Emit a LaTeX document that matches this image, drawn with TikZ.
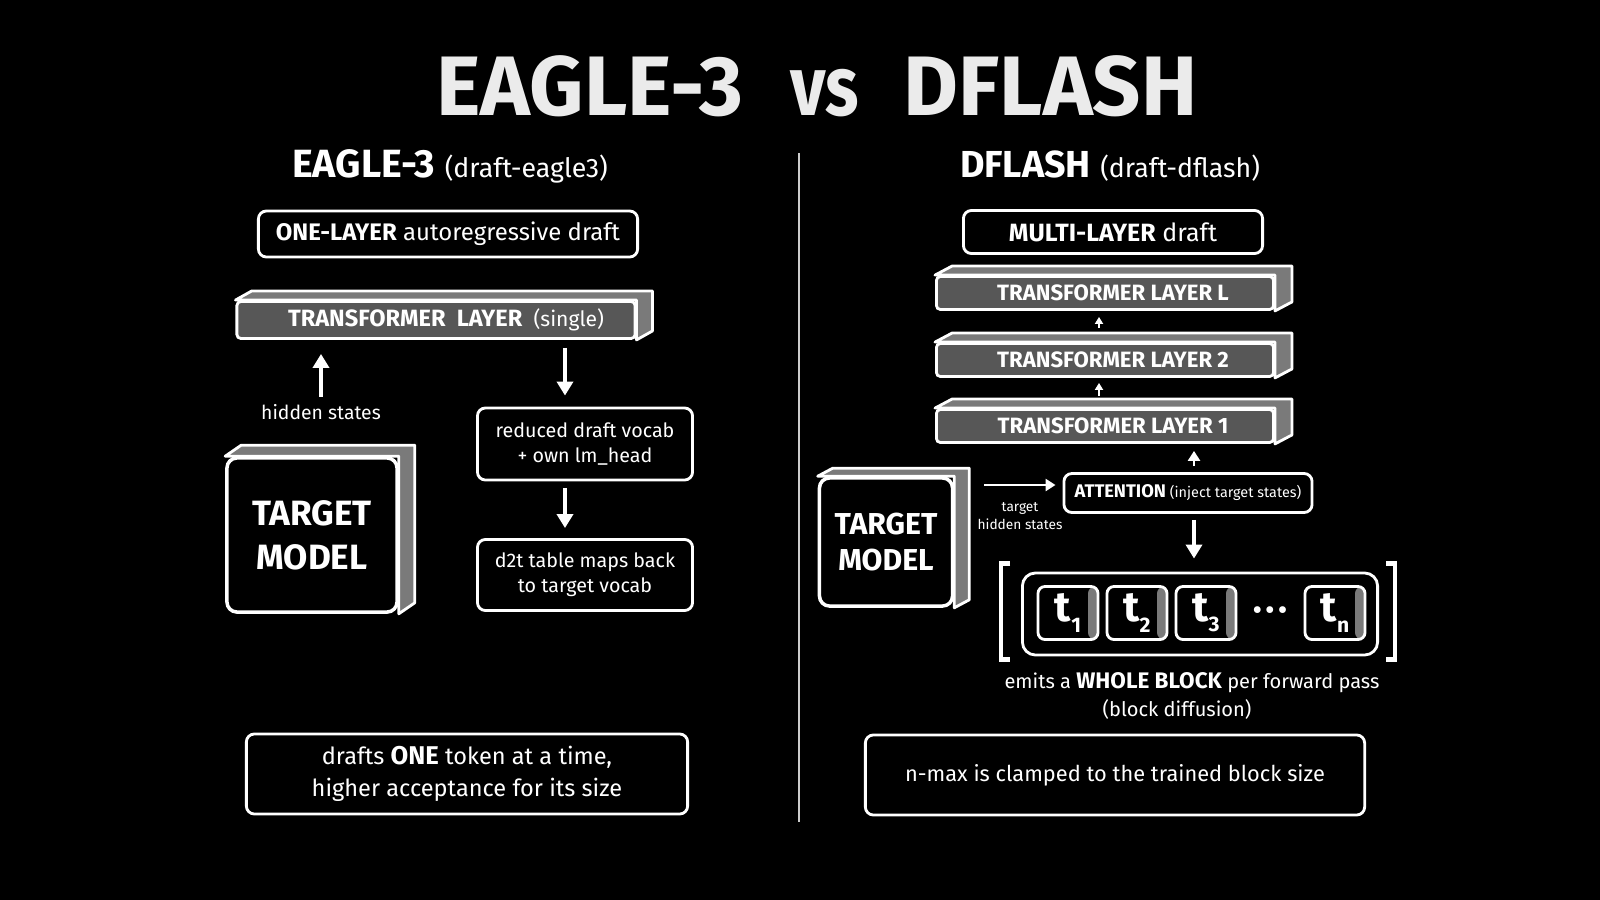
\documentclass[tikz,border=0pt]{standalone}
\usepackage{fontspec}
\setmainfont{Fira Sans}
\usetikzlibrary{arrows.meta}
\newcommand{\fsz}[2]{\fontsize{#1}{#2}\selectfont}
\definecolor{slabgray}{gray}{0.34}
\definecolor{sidegray}{gray}{0.48}
\pgfdeclarelayer{back}
\pgfdeclarelayer{faces}
\pgfsetlayers{back,faces,main}
\tikzset{
  box/.style={draw=white, line width=0.8pt, fill=black, rounded corners=0.08cm, text=white, align=center, inner sep=0pt},
  slab/.style={draw=white, line width=0.8pt, fill=slabgray, rounded corners=0.04cm, text=white, inner sep=0pt, font=\bfseries\fsz{6.3}{7}},
  cube/.style={draw=white, line width=1pt, fill=black, rounded corners=0.1cm, text=white, align=center, inner sep=0pt},
  face/.style={draw=white, line width=0.8pt, fill=sidegray, line join=round},
  tok/.style={draw=white, line width=0.8pt, fill=black, rounded corners=0.07cm, text=white, inner sep=0pt,
    minimum width=0.6cm, minimum height=0.53cm, font=\bfseries\fsz{12}{12},
    path picture={\fill[sidegray] ([xshift=-0.1cm]path picture bounding box.north east) rectangle (path picture bounding box.south east);}},
  lbl/.style={text=white, inner sep=0pt, align=center},
  arr/.style={white, line width=1pt, -{Triangle[length=0.14cm,width=0.16cm]}},
  marr/.style={white, line width=0.8pt, -{Triangle[length=0.1cm,width=0.12cm]}},
  sarr/.style={white, line width=0.6pt, -{Triangle[length=0.07cm,width=0.08cm]}},
  brk/.style={white, line width=1.3pt},
}
\begin{document}
\begin{tikzpicture}[x=0.01cm, y=-0.01cm]
    % 背景
    \begin{pgfonlayer}{back}
      \fill[black] (0,0) rectangle (1600,900);
    \end{pgfonlayer}

    % 标题
    \node[lbl, text=white!92!black, font=\bfseries\fsz{24}{28}] (title) at (817,86) {EAGLE-3\hspace{0.47cm}\scalebox{0.82}[1]{vs}\hspace{0.45cm}DFLASH};

    % 分隔线
    \coordinate (divtop) at (799,153);
    \coordinate (divbot) at (799,822);
    \draw[white!80!black, line width=0.6pt] (divtop) -- (divbot);

    % 左边：EAGLE-3
    \node[lbl] (hdE) at (450,166) {{\bfseries\fsz{11.2}{13}EAGLE-3} {\fsz{7.6}{9}(draft-eagle3)}};
    \node[box, minimum width=3.79cm, minimum height=0.46cm, font=\fsz{6.8}{8}] (onelayer) at (448,234) {\textbf{ONE-LAYER} autoregressive draft};
    \node[slab, minimum width=3.98cm, minimum height=0.37cm, font=\bfseries\fsz{6.7}{7}] (slabE) at (436,320) {\hspace{0.2cm}TRANSFORMER\ \ LAYER\ \ {\mdseries\fsz{6}{7}(single)}};
    \node[lbl, font=\fsz{5.5}{7}] (hs) at (321,412) {hidden states};
    \node[cube, minimum width=1.70cm, minimum height=1.54cm, font=\bfseries\fsz{10}{12.5}] (tgtE) at (312,535) {TARGET\\MODEL};
    \node[box, minimum width=2.15cm, minimum height=0.72cm, font=\fsz{5.6}{7.2}] (vocab) at (585,444) {reduced draft vocab\\+ own lm\_head};
    \node[box, minimum width=2.15cm, minimum height=0.71cm, font=\fsz{5.6}{7.2}] (d2t) at (585,575) {d2t table maps back\\to target vocab};
    \node[box, minimum width=4.41cm, minimum height=0.80cm, font=\fsz{6.7}{9}] (sumE) at (467,774) {drafts {\bfseries\fsz{7.3}{9}ONE} token at a time,\\higher acceptance for its size};

    \draw[arr] ([yshift=0.07cm]hs.north) -- ([yshift=-0.14cm]hs.north |- slabE.south);
    \draw[arr] ([xshift=-0.2cm,yshift=-0.08cm]vocab.north |- slabE.south) -- ([xshift=-0.2cm,yshift=0.11cm]vocab.north);
    \draw[arr] ([xshift=-0.2cm,yshift=-0.07cm]vocab.south) -- ([xshift=-0.2cm,yshift=0.1cm]d2t.north);

    % 右边：DFLASH
    \node[lbl] (hdD) at (1110,166) {{\bfseries\fsz{10.7}{13}DFLASH} {\fsz{7.6}{9}(draft-dflash)}};
    \node[box, minimum width=2.99cm, minimum height=0.43cm, font=\fsz{7.1}{8}] (multi) at (1113,232) {\textbf{MULTI-LAYER} draft};
    \node[slab, minimum width=3.37cm, minimum height=0.33cm] (layerL) at (1105,293) {\hspace{0.16cm}TRANSFORMER LAYER L};
    \node[slab, minimum width=3.37cm, minimum height=0.33cm] (layer2) at (1105,360) {\hspace{0.16cm}TRANSFORMER LAYER 2};
    \node[slab, minimum width=3.37cm, minimum height=0.33cm] (layer1) at (1105,426) {\hspace{0.16cm}TRANSFORMER LAYER 1};
    \node[box, minimum width=2.48cm, minimum height=0.39cm, font=\fsz{4.1}{5}] (att) at (1188,493) {{\bfseries\fsz{5.2}{6}ATTENTION} (inject target states)};
    \node[cube, minimum width=1.33cm, minimum height=1.28cm, font=\bfseries\fsz{8.6}{10.5}] (tgtD) at (886,542) {TARGET\\MODEL};
    \node[lbl, font=\fsz{3.9}{5.2}] (ths) at (1020,516) {target\\hidden states};

    % token 块
    \node[box, minimum width=3.55cm, minimum height=0.82cm, rounded corners=0.13cm] (block) at (1200,614) {};
    \node[tok] (t1) at (1068,613) {t\raisebox{-0.45ex}{\fsz{6}{6}1}};
    \node[tok] (t2) at (1137,613) {t\raisebox{-0.45ex}{\fsz{6}{6}2}};
    \node[tok] (t3) at (1206,613) {t\raisebox{-0.45ex}{\fsz{6}{6}3}};
    \node[lbl, font=\bfseries\fsz{7}{7}] (dots) at (1270,613) {\textbullet\,\textbullet\,\textbullet};
    \node[tok] (tn) at (1335,613) {t\raisebox{-0.45ex}{\fsz{6}{6}n}};
    \draw[brk] ([shift={(-11,-8)}]block.north west) -- ++(-9,0) -- ([shift={(-20,3)}]block.south west) -- ++(9,0);
    \draw[brk] ([shift={(7,-8)}]block.north east) -- ++(9,0) -- ([shift={(16,3)}]block.south east) -- ++(-9,0);

    \node[lbl, font=\fsz{5.7}{8}] (emits) at (1192,683) {emits a {\bfseries\fsz{6.4}{8}WHOLE BLOCK} per forward pass};
    \node[lbl, font=\fsz{5.7}{8}] (diff) at (1177,709) {(block diffusion)};
    \node[box, minimum width=4.99cm, minimum height=0.80cm, font=\fsz{6.2}{9}] (sumD) at (1115,775) {n-max is clamped to the trained block size};

    \draw[sarr, shorten <=0.12cm, shorten >=0.05cm] ([xshift=-0.06cm]layer1.north) -- ([xshift=-0.06cm]layer2.south);
    \draw[sarr, shorten <=0.14cm, shorten >=0.06cm] ([xshift=-0.06cm]layer2.north) -- ([xshift=-0.06cm]layerL.south);
    \draw[marr, shorten <=0.06cm, shorten >=0.07cm] ([xshift=0.06cm]att.north) -- ([xshift=0.06cm]att.north |- layer1.south);
    \draw[marr] ([xshift=0.3cm,yshift=0.08cm]tgtD.east |- att.west) -- ([xshift=-0.07cm,yshift=0.08cm]att.west);
    \draw[arr, shorten <=0.06cm] ([xshift=0.06cm]att.south) -- ([xshift=0.06cm,yshift=0.13cm]att.south |- block.north);

    % 立体侧面
    \begin{pgfonlayer}{faces}
      \foreach \n/\dx/\dy in {slabE/16/-9, layerL/17/-9, layer2/17/-9, layer1/17/-9, tgtE/16/-11, tgtD/15/-8}
        \filldraw[face] (\n.north west) -- ++(\dx,\dy) -- ([shift={(\dx,\dy)}]\n.north east) -- ([shift={(\dx,\dy)}]\n.south east) -- (\n.south east) -- (\n.north east) -- cycle;
    \end{pgfonlayer}
\end{tikzpicture}
\end{document}
